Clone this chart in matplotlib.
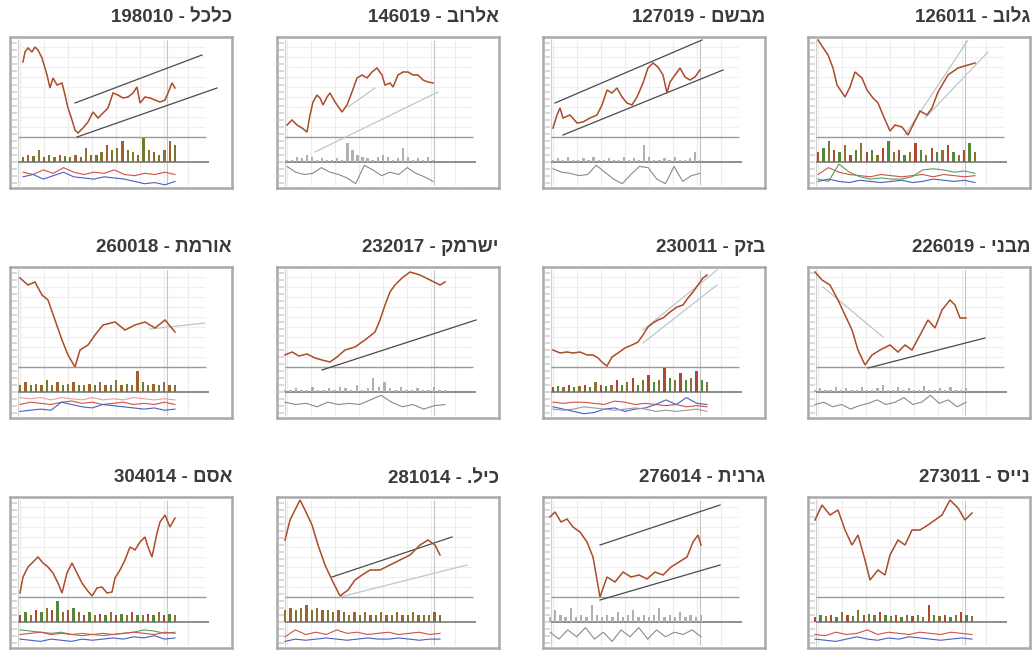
import numpy as np
import matplotlib
matplotlib.use("Agg")
import matplotlib.pyplot as plt

# =============================================================================
# Grid of 12 stock thumbnails (price / volume / oscillator) with Hebrew titles
# =============================================================================

W, H = 1032, 656
BOX_W, BOX_H = 222, 151
COL_X = [10, 277, 543, 808]
ROW_Y = [37, 267, 497]
TITLE_Y = [17, 248, 478]

# ── titles (logical order, reversed at draw time – matplotlib has no bidi) ────
NAMES = ["כלכל", "אלרוב", "מבשם", "גלוב",
         "אורמת", "ישרמק", "בזק", "מבני",
         "אסם", "כיל.", "גרנית", "נייס"]
CODES = ["198010", "146019", "127019", "126011",
         "260018", "232017", "230011", "226019",
         "304014", "281014", "276014", "273011"]

# ── price series (day index, price level 0-100) ───────────────────────────────
kalkal_day = [13, 15, 18, 22, 25, 28, 32, 37, 40, 43, 47, 52, 55, 58, 62, 65, 68, 73, 78,
              83, 88, 93, 98, 103, 108, 113, 118, 123, 127, 130, 135, 140, 145, 150, 155,
              158, 162, 165]
kalkal_px = [75, 85, 89, 85, 90, 87, 79, 62, 49, 59, 52, 54, 42, 29, 17, 7, 4, 9, 15,
             25, 19, 24, 29, 44, 42, 39, 40, 44, 50, 34, 40, 39, 37, 35, 37, 44, 54, 49]

alrov_day = [10, 15, 20, 25, 30, 33, 36, 40, 43, 46, 50, 53, 58, 65, 70, 75, 80, 85, 90,
             95, 100, 105, 108, 113, 116, 121, 126, 131, 136, 141, 146, 151, 156]
alrov_px = [12, 17, 12, 9, 5, 22, 35, 42, 39, 32, 40, 44, 35, 25, 32, 45, 59, 62, 59,
            65, 69, 62, 52, 54, 50, 62, 65, 65, 62, 62, 57, 55, 54]

mivsam_day = [10, 14, 17, 20, 27, 34, 40, 47, 54, 59, 64, 69, 74, 79, 84, 89, 94, 100,
              105, 110, 115, 120, 124, 127, 132, 137, 142, 147, 152, 157]
mivsam_px = [9, 22, 29, 19, 22, 14, 15, 19, 22, 32, 47, 44, 49, 40, 34, 32, 40, 54,
             69, 74, 70, 62, 44, 55, 62, 69, 60, 57, 60, 67]

glob_day = [10, 20, 25, 29, 37, 42, 47, 54, 59, 65, 70, 75, 82, 87, 94, 100, 107, 112,
            119, 124, 130, 140, 150, 160, 167]
glob_px = [97, 82, 69, 52, 40, 50, 65, 59, 47, 39, 34, 22, 6, 12, 10, 2, 16, 26,
           22, 29, 45, 62, 69, 72, 74]

ormat_day = [10, 18, 25, 32, 38, 45, 52, 58, 65, 70, 78, 85, 93, 105, 115, 125, 135,
             145, 155, 165]
ormat_px = [89, 82, 85, 72, 67, 47, 27, 12, 0, 17, 22, 32, 42, 45, 37, 42, 45, 39, 47, 35]

isramco_day = [8, 15, 22, 30, 38, 45, 53, 60, 68, 78, 88, 98, 103, 108, 113, 118, 125,
               133, 143, 153, 163, 168]
isramco_px = [12, 15, 11, 13, 9, 7, 5, 10, 17, 20, 27, 35, 47, 62, 75, 82, 89,
              95, 92, 87, 82, 85]

bezeq_day = [10, 17, 24, 30, 37, 44, 50, 55, 60, 64, 69, 75, 82, 89, 95, 100, 105, 110,
             115, 120, 127, 134, 140, 145, 150, 155, 160, 164]
bezeq_px = [17, 14, 15, 14, 15, 12, 12, 9, 4, 1, 10, 14, 19, 22, 25, 32, 40, 44,
            47, 49, 55, 60, 62, 69, 75, 82, 89, 92]

mivne_day = [7, 14, 22, 30, 37, 44, 50, 57, 64, 72, 82, 90, 97, 104, 112, 120, 127, 134,
             142, 147, 152, 158]
mivne_px = [95, 87, 82, 67, 52, 37, 17, 2, 12, 17, 22, 15, 22, 17, 32, 47, 39, 57,
            67, 62, 49, 49]

osem_day = [10, 13, 18, 23, 28, 33, 38, 43, 48, 52, 57, 62, 67, 72, 77, 82, 87, 92, 97,
            102, 105, 110, 115, 120, 125, 130, 135, 138, 142, 147, 150, 155, 160, 165]
osem_px = [4, 20, 30, 35, 40, 34, 30, 24, 14, 4, 24, 34, 24, 14, 7, 1, 9, 10, 4,
           5, 19, 27, 37, 50, 47, 55, 60, 50, 40, 64, 75, 82, 70, 79]

icl_day = [8, 13, 18, 23, 28, 35, 41, 48, 55, 63, 71, 78, 85, 93, 103, 113, 123, 133,
           143, 151, 158, 163]
icl_px = [57, 77, 87, 97, 87, 72, 52, 32, 17, 1, 7, 17, 22, 27, 27, 32, 37, 42,
          52, 57, 52, 42]

granit_day = [7, 12, 18, 24, 30, 37, 44, 50, 57, 64, 72, 80, 88, 96, 104, 112, 120, 128,
              136, 144, 150, 155, 158]
granit_px = [80, 85, 75, 78, 70, 65, 55, 40, 0, 20, 15, 25, 20, 22, 18, 25, 22, 30,
             35, 40, 55, 62, 52]

nice_day = [7, 14, 22, 30, 37, 44, 50, 57, 62, 70, 77, 82, 90, 97, 104, 112, 120, 127,
            134, 142, 150, 157, 164]
nice_px = [77, 92, 82, 87, 67, 52, 62, 37, 17, 27, 22, 42, 57, 52, 67, 67, 72, 77,
           82, 97, 89, 77, 84]

# ── trend / channel lines: (day0, px0, day1, px1, dark?) ─────────────────────
kalkal_tr = [(65, 34, 192, 82, True), (67, 0, 207, 49, True)]
alrov_tr = [(38, -15, 161, 45, False), (71, 30, 98, 49, False)]
mivsam_tr = [(12, 34, 159, 97, True), (20, 2, 180, 67, True)]
glob_tr = [(97, 2, 160, 97, False), (117, 19, 180, 85, False)]
ormat_tr = [(140, 38, 195, 44, False)]
isramco_tr = [(45, -3, 199, 47, True)]
bezeq_tr = [(100, 37, 174, 97, False), (100, 24, 174, 82, False)]
mivne_tr = [(60, -1, 177, 29, True), (15, 80, 75, 30, False)]
osem_tr = []
icl_tr = [(55, 20, 175, 60, True), (63, 0, 190, 32, False)]
granit_tr = [(57, 52, 177, 92, True), (57, -3, 177, 32, True)]
nice_tr = []

# ── volume (relative bar height) ─────────────────────────────────────────────
kalkal_vol = [0.2, 0.3, 0.25, 0.5, 0.2, 0.3, 0.2, 0.3, 0.25, 0.2, 0.3, 0.2, 0.6, 0.3, 0.3,
              0.4, 0.7, 0.5, 0.6, 0.9, 0.5, 0.4, 0.3, 1.0, 0.5, 0.4, 0.3, 0.5, 0.9, 0.7]
alrov_vol = [0.1, 0.1, 0.2, 0.15, 0.3, 0.2, 0.1, 0.15, 0.1, 0.1, 0.15, 0.1, 0.8, 0.5, 0.3,
             0.2, 0.15, 0.1, 0.2, 0.3, 0.2, 0.1, 0.15, 0.6, 0.2, 0.1, 0.15, 0.1, 0.2, 0.1]
mivsam_vol = [0.1, 0.15, 0.1, 0.2, 0.1, 0.1, 0.15, 0.1, 0.2, 0.1, 0.1, 0.15, 0.1, 0.1, 0.2,
              0.1, 0.15, 0.1, 0.7, 0.2, 0.1, 0.1, 0.15, 0.1, 0.2, 0.1, 0.1, 0.15, 0.4, 0.1]
glob_vol = [0.4, 0.6, 0.9, 0.5, 0.4, 0.7, 0.3, 0.5, 0.8, 0.4, 0.5, 0.3, 0.6, 0.9, 0.4,
            0.5, 0.3, 0.4, 0.8, 0.5, 0.3, 0.6, 0.4, 0.5, 0.7, 0.4, 0.3, 0.5, 0.8, 0.4]
ormat_vol = [0.3, 0.4, 0.3, 0.35, 0.3, 0.5, 0.3, 0.4, 0.3, 0.35, 0.4, 0.3, 0.3, 0.35, 0.3,
             0.4, 0.3, 0.3, 0.5, 0.3, 0.35, 0.3, 0.9, 0.4, 0.3, 0.35, 0.3, 0.4, 0.3, 0.3]
isramco_vol = [0.1, 0.1, 0.15, 0.1, 0.1, 0.2, 0.1, 0.1, 0.15, 0.1, 0.2, 0.15, 0.1, 0.3, 0.1,
               0.15, 0.6, 0.2, 0.4, 0.15, 0.1, 0.2, 0.1, 0.1, 0.15, 0.1, 0.1, 0.2, 0.1, 0.1]
bezeq_vol = [0.2, 0.25, 0.2, 0.3, 0.2, 0.25, 0.3, 0.2, 0.4, 0.3, 0.25, 0.3, 0.5, 0.3, 0.4,
             0.6, 0.3, 0.5, 0.7, 0.4, 0.5, 1.0, 0.6, 0.5, 0.8, 0.5, 0.6, 0.9, 0.5, 0.4]
mivne_vol = [0.1, 0.15, 0.1, 0.1, 0.2, 0.1, 0.15, 0.1, 0.1, 0.2, 0.1, 0.1, 0.15, 0.3, 0.1,
             0.1, 0.2, 0.1, 0.15, 0.1, 0.1, 0.25, 0.1, 0.1, 0.15, 0.1, 0.2, 0.1, 0.1, 0.15]
osem_vol = [0.3, 0.4, 0.3, 0.5, 0.4, 0.6, 0.5, 0.9, 0.4, 0.5, 0.6, 0.4, 0.3, 0.4, 0.3,
            0.35, 0.3, 0.4, 0.3, 0.35, 0.3, 0.4, 0.3, 0.3, 0.35, 0.3, 0.4, 0.3, 0.35, 0.3]
icl_vol = [0.5, 0.6, 0.5, 0.6, 0.7, 0.5, 0.6, 0.5, 0.5, 0.4, 0.5, 0.4, 0.3, 0.4, 0.3,
           0.4, 0.3, 0.3, 0.4, 0.3, 0.3, 0.4, 0.3, 0.3, 0.4, 0.3, 0.3, 0.3, 0.4, 0.3]
granit_vol = [0.2, 0.5, 0.3, 0.2, 0.6, 0.2, 0.3, 0.2, 0.7, 0.3, 0.2, 0.3, 0.2, 0.4, 0.2,
              0.3, 0.5, 0.2, 0.3, 0.2, 0.3, 0.6, 0.2, 0.3, 0.2, 0.4, 0.2, 0.3, 0.2, 0.3]
nice_vol = [0.2, 0.3, 0.25, 0.3, 0.2, 0.4, 0.3, 0.25, 0.5, 0.3, 0.35, 0.3, 0.4, 0.3, 0.25,
            0.3, 0.2, 0.3, 0.25, 0.3, 0.2, 0.7, 0.3, 0.25, 0.3, 0.2, 0.3, 0.4, 0.3, 0.25]

# ── oscillator lines (colour, values 0-1) ────────────────────────────────────
kalkal_ind = [("#d0504a", [0.6, 0.5, 0.7, 0.55, 0.8, 0.6, 0.5, 0.6, 0.55, 0.7, 0.5, 0.45, 0.55, 0.5, 0.6, 0.5]),
              ("#4a5fc0", [0.4, 0.5, 0.3, 0.45, 0.6, 0.4, 0.35, 0.3, 0.4, 0.35, 0.3, 0.2, 0.1, 0.15, 0.05, 0.2])]
alrov_ind = [("#8a8a8a", [0.85, 0.6, 0.5, 0.55, 0.8, 0.6, 0.5, 0.35, 0.1, 0.9, 0.7, 0.45, 0.6, 0.5, 0.8, 0.55, 0.4, 0.2])]
mivsam_ind = [("#8a8a8a", [0.75, 0.6, 0.55, 0.45, 0.5, 0.9, 0.6, 0.3, 0.1, 0.5, 0.85, 0.8, 0.3, 0.1, 0.85, 0.2, 0.45, 0.55])]
glob_ind = [("#d0504a", [0.5, 0.8, 0.6, 0.5, 0.45, 0.4, 0.5, 0.45, 0.4, 0.45, 0.5, 0.4, 0.5, 0.45, 0.4, 0.45]),
            ("#5aa05a", [0.3, 0.2, 0.95, 0.6, 0.4, 0.3, 0.35, 0.3, 0.3, 0.4, 0.7, 0.75, 0.7, 0.6, 0.65, 0.55]),
            ("#4a5fc0", [0.2, 0.3, 0.2, 0.15, 0.25, 0.2, 0.15, 0.2, 0.25, 0.15, 0.2, 0.3, 0.25, 0.2, 0.25, 0.15])]
ormat_ind = [("#e0a0b0", [0.8, 0.75, 0.8, 0.7, 0.8, 0.75, 0.7, 0.8, 0.7, 0.75, 0.7, 0.8, 0.75, 0.7, 0.75, 0.7]),
             ("#d0504a", [0.5, 0.6, 0.55, 0.5, 0.6, 0.65, 0.55, 0.6, 0.5, 0.55, 0.6, 0.5, 0.55, 0.5, 0.6, 0.5]),
             ("#4a5fc0", [0.2, 0.25, 0.3, 0.25, 0.6, 0.5, 0.4, 0.35, 0.5, 0.45, 0.4, 0.35, 0.3, 0.35, 0.25, 0.3])]
isramco_ind = [("#8a8a8a", [0.6, 0.5, 0.55, 0.4, 0.6, 0.5, 0.55, 0.5, 0.7, 0.9, 0.6, 0.4, 0.5, 0.3, 0.45, 0.5])]
bezeq_ind = [("#d0504a", [0.6, 0.55, 0.6, 0.6, 0.55, 0.5, 0.65, 0.6, 0.5, 0.55, 0.5, 0.45, 0.5, 0.4, 0.45, 0.4]),
             ("#4a5fc0", [0.4, 0.3, 0.2, 0.1, 0.15, 0.3, 0.35, 0.2, 0.3, 0.35, 0.5, 0.7, 0.5, 0.8, 0.55, 0.5]),
             ("#9a9a9a", [0.3, 0.25, 0.3, 0.4, 0.35, 0.3, 0.25, 0.3, 0.35, 0.3, 0.2, 0.25, 0.2, 0.25, 0.3, 0.2])]
mivne_ind = [("#8a8a8a", [0.5, 0.6, 0.4, 0.5, 0.3, 0.45, 0.55, 0.7, 0.5, 0.6, 0.8, 0.5, 0.6, 0.9, 0.55, 0.7, 0.4, 0.6])]
osem_ind = [("#5aa05a", [0.7, 0.65, 0.6, 0.55, 0.6, 0.5, 0.55, 0.5, 0.45, 0.5, 0.55, 0.6, 0.7, 0.65, 0.55, 0.6]),
            ("#d0504a", [0.5, 0.55, 0.6, 0.5, 0.55, 0.5, 0.45, 0.5, 0.55, 0.5, 0.55, 0.6, 0.55, 0.5, 0.6, 0.55]),
            ("#4a5fc0", [0.3, 0.25, 0.2, 0.3, 0.25, 0.2, 0.3, 0.25, 0.3, 0.35, 0.3, 0.4, 0.35, 0.45, 0.3, 0.35])]
icl_ind = [("#d0504a", [0.4, 0.7, 0.5, 0.6, 0.5, 0.7, 0.55, 0.6, 0.5, 0.55, 0.6, 0.5, 0.55, 0.6, 0.5, 0.55]),
           ("#4a5fc0", [0.2, 0.3, 0.25, 0.3, 0.35, 0.3, 0.25, 0.3, 0.35, 0.3, 0.3, 0.35, 0.3, 0.25, 0.3, 0.3])]
granit_ind = [("#8a8a8a", [0.6, 0.3, 0.7, 0.4, 0.8, 0.3, 0.6, 0.2, 0.7, 0.4, 0.8, 0.3, 0.7, 0.4, 0.6, 0.5, 0.7, 0.4])]
nice_ind = [("#d0504a", [0.5, 0.45, 0.6, 0.5, 0.55, 0.7, 0.5, 0.6, 0.55, 0.5, 0.6, 0.55, 0.5, 0.6, 0.55, 0.5]),
            ("#4a5fc0", [0.3, 0.25, 0.2, 0.3, 0.4, 0.3, 0.25, 0.35, 0.3, 0.4, 0.35, 0.3, 0.25, 0.3, 0.35, 0.3])]

# volume colour palettes per thumbnail (cycled over bars)
WARM = ["#b5452e", "#4f8a3a", "#8a7430"]
OLIVE = ["#8a7430", "#a0602e", "#6f7a33"]
GREY = ["#b0b0b0"]

PANELS = [
    (kalkal_day, kalkal_px, kalkal_tr, kalkal_vol, OLIVE, kalkal_ind),
    (alrov_day, alrov_px, alrov_tr, alrov_vol, GREY, alrov_ind),
    (mivsam_day, mivsam_px, mivsam_tr, mivsam_vol, GREY, mivsam_ind),
    (glob_day, glob_px, glob_tr, glob_vol, WARM, glob_ind),
    (ormat_day, ormat_px, ormat_tr, ormat_vol, OLIVE, ormat_ind),
    (isramco_day, isramco_px, isramco_tr, isramco_vol, GREY, isramco_ind),
    (bezeq_day, bezeq_px, bezeq_tr, bezeq_vol, WARM, bezeq_ind),
    (mivne_day, mivne_px, mivne_tr, mivne_vol, GREY, mivne_ind),
    (osem_day, osem_px, osem_tr, osem_vol, WARM, osem_ind),
    (icl_day, icl_px, icl_tr, icl_vol, OLIVE, icl_ind),
    (granit_day, granit_px, granit_tr, granit_vol, GREY, granit_ind),
    (nice_day, nice_px, nice_tr, nice_vol, WARM, nice_ind),
]

TITLE_FONT = ["Liberation Sans", "DejaVu Sans"]


def rect(x0, y0, w, h):
    """pixel box (top-left origin) -> figure fraction rect"""
    return [x0 / W, 1 - (y0 + h) / H, w / W, h / H]


fig = plt.figure(figsize=(W / 100, H / 100), dpi=100)
fig.patch.set_facecolor("white")

for i, (day, px, trends, vol, vcols, ind) in enumerate(PANELS):
    row, col = divmod(i, 4)
    bx, by = COL_X[col], ROW_Y[row]

    # ── outer frame + static chart furniture ─────────────────────────────
    frame = fig.add_axes(rect(bx, by, BOX_W, BOX_H))
    frame.set_xlim(0, BOX_W)
    frame.set_ylim(BOX_H, 0)
    frame.set_xticks([])
    frame.set_yticks([])
    for s in frame.spines.values():
        s.set_color("#a9a9a9")
        s.set_linewidth(1.8)
    frame.vlines(np.arange(10, 200, 24), 3, 148, color="#ececec", lw=0.8)
    frame.hlines(np.arange(10, 100, 10), 8, 195, color="#efefef", lw=0.8)
    frame.hlines(np.arange(6, 148, 7), 2, 7, color="#cfcfcf", lw=1.1)
    frame.vlines(8, 2, 149, color="#d0d0d0", lw=0.8)
    frame.vlines(157, 3, 148, color="#c4c4c4", lw=0.8)
    frame.hlines(100, 8, 196, color="#9a9a9a", lw=1.0)
    frame.hlines(125, 8, 199, color="#7a7a7a", lw=1.2)

    # ── price panel ──────────────────────────────────────────────────────
    pax = fig.add_axes(rect(bx, by, BOX_W, 100))
    pax.set_xlim(0, BOX_W)
    pax.set_ylim(0, 100)
    pax.axis("off")
    for d0, p0, d1, p1, dark in trends:
        pax.plot([d0, d1], [p0, p1], color="#4a4a4a" if dark else "#bcc8c8",
                 lw=0.9, clip_on=False)
    pax.plot(day, px, color="#c4452e", lw=1.1, solid_joinstyle="miter")
    pax.plot(day, px, color="#6f6a2a", lw=0.4, alpha=0.7)

    # ── volume panel ─────────────────────────────────────────────────────
    vax = fig.add_axes(rect(bx, by + 100, BOX_W, 25))
    vax.set_xlim(0, BOX_W)
    vax.set_ylim(0, 1.05)
    vax.axis("off")
    vx = np.linspace(day[0], day[-1], len(vol))
    vw = (day[-1] - day[0]) / len(vol) * 0.45
    vax.bar(vx, vol, width=vw, color=[vcols[k % len(vcols)] for k in range(len(vol))],
            linewidth=0)

    # ── oscillator panel ─────────────────────────────────────────────────
    iax = fig.add_axes(rect(bx, by + 126, BOX_W, 23))
    iax.set_xlim(0, BOX_W)
    iax.set_ylim(0, 1)
    iax.axis("off")
    for c, vals in ind:
        iax.plot(np.linspace(day[0], day[-1], len(vals)), vals, color=c, lw=0.8)

    # ── title (right aligned to the box, RTL name) ───────────────────────
    fig.text((bx + BOX_W) / W, 1 - TITLE_Y[row] / H,
             f"{CODES[i]} - {NAMES[i][::-1]}", ha="right", va="center",
             fontsize=13.5, fontweight="bold", color="#3a3a3a", family=TITLE_FONT)

fig.savefig("out.png", dpi=100, facecolor="white")
